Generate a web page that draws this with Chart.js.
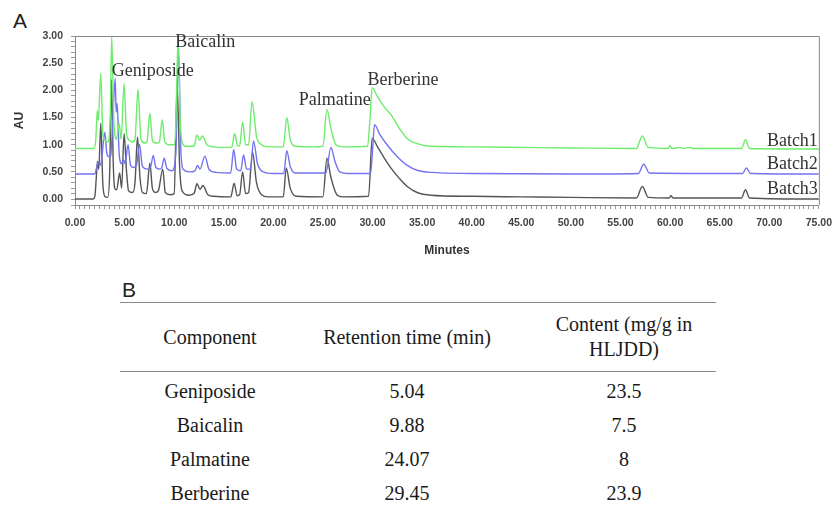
<!DOCTYPE html>
<html><head><meta charset="utf-8">
<script src="https://cdn.jsdelivr.net/npm/chart.js@4"></script>
<style>
html,body{margin:0;padding:0;background:#fff;width:840px;height:508px;overflow:hidden;}
#wrap{position:absolute;left:0;top:0;width:840px;height:265px;}
.lbl{position:absolute;font-family:'Liberation Sans',Arial,sans-serif;color:#222;line-height:normal;}
.t{position:absolute;font-family:'Liberation Serif','Times New Roman',serif;font-size:20px;color:#1a1a1a;text-align:center;width:300px;line-height:24px;white-space:nowrap;}
.rule{position:absolute;left:120px;width:596px;height:0;border-top:1.5px solid #888;}
</style></head>
<body>
<div class="lbl" style="left:13px;top:9px;font-size:21px;">A</div>
<div id="wrap"><canvas id="c" width="840" height="265"></canvas></div>
<div class="lbl" style="left:122px;top:278px;font-size:21px;">B</div>
<div class="rule" style="top:302px"></div>
<div class="rule" style="top:371px"></div>
<div id="tbl"></div>
<script>
// ---- chromatogram data: [minutes, AU] ----
const batch1 = [[0,0.93],[1.9,0.93],[2.1,1.1],[2.25,1.63],[2.35,1.45],[2.6,2.31],[2.8,1.2],[3.0,1.08],[3.3,1.05],[3.55,1.5],[3.7,3.0],[3.9,1.5],[4.05,1.15],[4.2,1.1],[4.45,1.39],[4.65,1.1],[4.95,2.12],[5.2,1.2],[5.5,1.08],[5.8,1.05],[6.05,1.1],[6.35,2.02],[6.65,1.1],[7.0,1.03],[7.25,1.05],[7.55,1.58],[7.8,1.08],[8.2,1.03],[8.5,1.05],[8.8,1.46],[9.05,1.05],[9.5,1.0],[10.0,1.0],[10.15,1.3],[10.4,3.0],[10.6,1.5],[10.8,1.05],[11.2,0.97],[12.0,0.97],[12.3,1.18],[12.55,1.08],[12.85,1.16],[13.3,1.0],[14.0,0.96],[15.0,0.95],[15.8,0.95],[16.1,1.2],[16.4,0.98],[16.6,0.98],[16.9,1.42],[17.2,1.0],[17.5,1.0],[17.85,1.79],[18.3,1.15],[18.8,1.0],[19.5,0.96],[21.0,0.96],[21.35,1.5],[21.7,1.1],[22.2,0.97],[24.0,0.96],[25.0,0.97],[25.4,1.65],[25.8,1.3],[26.3,1.0],[27,0.96],[29.5,0.97],[29.75,1.5],[29.96,2.05],[30.5,1.88],[31.2,1.69],[31.9,1.54],[32.7,1.3],[33.5,1.11],[34.5,1.02],[35.9,0.97],[40,0.96],[45,0.95],[50,0.94],[56.6,0.93],[57.2,1.16],[57.8,0.95],[59.8,0.93],[60.0,0.98],[60.2,0.93],[61,0.95],[61.3,0.93],[62,0.95],[62.3,0.93],[67.2,0.93],[67.6,1.09],[68.0,0.93],[75,0.92]];
const batch2 = [[0,0.46],[2.0,0.46],[2.2,0.6],[2.4,0.68],[2.55,0.62],[2.7,0.75],[3.0,1.23],[3.2,0.85],[3.4,0.78],[3.6,0.8],[3.8,1.4],[4.05,2.22],[4.15,1.6],[4.25,1.76],[4.45,0.85],[4.7,0.65],[4.9,0.72],[5.05,0.65],[5.35,1.0],[5.6,0.62],[5.9,0.58],[6.2,0.62],[6.5,1.01],[6.8,0.6],[7.3,0.55],[7.6,0.58],[7.9,0.8],[8.15,0.58],[8.6,0.55],[8.75,0.58],[9.0,0.75],[9.25,0.57],[9.8,0.52],[10.15,0.8],[10.45,2.73],[10.65,1.0],[10.9,0.55],[11.5,0.5],[12.1,0.52],[12.35,0.62],[12.6,0.55],[13.1,0.79],[13.5,0.55],[14.2,0.49],[15.7,0.48],[16.0,0.91],[16.3,0.55],[16.7,0.52],[17.0,0.81],[17.3,0.55],[17.7,0.55],[18.0,1.07],[18.4,0.65],[19,0.5],[20,0.47],[21.05,0.47],[21.35,0.89],[21.7,0.6],[22.2,0.48],[25.3,0.48],[25.8,0.95],[26.2,0.7],[26.7,0.5],[27.5,0.47],[29.8,0.47],[30.0,0.9],[30.2,1.37],[30.7,1.2],[31.5,0.99],[32.5,0.78],[33.5,0.62],[34.5,0.53],[35.9,0.49],[40,0.47],[50,0.46],[56.8,0.47],[57.35,0.64],[57.9,0.48],[67.3,0.47],[67.7,0.57],[68.1,0.47],[75,0.46]];
const batch3 = [[0,0.0],[1.8,0.0],[2.0,0.05],[2.15,0.4],[2.27,0.69],[2.4,0.55],[2.6,1.39],[2.8,0.3],[3.0,0.05],[3.3,0.03],[3.5,0.5],[3.68,2.2],[3.85,0.7],[4.0,0.2],[4.2,0.17],[4.5,0.48],[4.7,0.2],[4.95,1.2],[5.2,0.5],[5.4,0.15],[5.8,0.12],[6.05,0.3],[6.3,1.14],[6.55,0.4],[6.8,0.12],[7.2,0.1],[7.55,0.66],[7.8,0.2],[8.1,0.12],[8.4,0.15],[8.85,0.55],[9.1,0.12],[9.6,0.08],[10.0,0.1],[10.3,2.1],[10.55,0.6],[10.8,0.15],[11.5,0.07],[12.0,0.1],[12.3,0.28],[12.6,0.18],[12.9,0.25],[13.4,0.08],[14.0,0.05],[15.7,0.04],[16.05,0.29],[16.35,0.06],[16.6,0.08],[16.9,0.5],[17.2,0.1],[17.5,0.12],[17.9,0.86],[18.3,0.3],[18.8,0.08],[19.5,0.04],[21.0,0.04],[21.3,0.57],[21.7,0.2],[22.3,0.05],[25.0,0.04],[25.4,0.75],[25.8,0.4],[26.4,0.08],[27,0.04],[29.6,0.05],[29.96,1.12],[30.5,0.96],[31.2,0.75],[31.9,0.56],[32.7,0.38],[33.5,0.23],[34.5,0.12],[35.9,0.07],[40,0.05],[45,0.04],[50,0.03],[56.6,0.02],[57.2,0.23],[57.8,0.03],[59.9,0.02],[60.1,0.06],[60.3,0.02],[67.2,0.02],[67.6,0.17],[68.0,0.02],[75,0.0]];
const batchNames = ['Batch1','Batch2','Batch3'];
// label anchors [minutes, AU]
const peakNames = ['Geniposide','Baicalin','Palmatine','Berberine'];
const peakAnchors = [[3.7,2.36],[10.1,2.89],[22.55,1.82],[29.5,2.18]];
const batchAnchors = [[74.9,1.07],[74.9,0.645],[74.9,0.18]];
// ---- table data ----
const tableHeaders = ['Component','Retention time (min)','Content (mg/g in\nHLJDD)'];
const components = ['Geniposide','Baicalin','Palmatine','Berberine'];
const retention = ['5.04','9.88','24.07','29.45'];
const content = ['23.5','7.5','8','23.9'];

// build table
const tbl = document.getElementById('tbl');
const colX = [210,407,624];
const rowY = [391,425,459,493];
function addText(txt, cx, cy){
  const d=document.createElement('div'); d.className='t';
  d.style.left=(cx-150)+'px'; d.style.top=(cy-12)+'px'; d.textContent=txt; tbl.appendChild(d);
}
addText(tableHeaders[0], colX[0], 337);
addText(tableHeaders[1], colX[1], 337);
const hp = tableHeaders[2].split('\n');
addText(hp[0], colX[2], 324);
addText(hp[1], colX[2], 349);
components.forEach((c,i)=>{ addText(c,colX[0],rowY[i]); addText(retention[i],colX[1],rowY[i]); addText(content[i],colX[2],rowY[i]); });

const toXY = a => a.map(p=>({x:p[0],y:p[1]}));
const tickFont = {family:'Liberation Sans', size:10.5, weight:'bold'};

const overlay = {
  id:'overlay',
  afterDraw(chart){
    const {ctx, chartArea:a, scales:{x,y}} = chart;
    ctx.save();
    ctx.strokeStyle='#888'; ctx.lineWidth=1;
    ctx.beginPath();
    ctx.moveTo(a.left, a.top+0.5); ctx.lineTo(a.right+0.5, a.top+0.5); ctx.lineTo(a.right+0.5, a.bottom);
    ctx.stroke();
    ctx.fillStyle='#333'; ctx.font="18px 'Liberation Serif'"; ctx.textBaseline='middle';
    ctx.textAlign='left';
    peakNames.forEach((n,i)=>ctx.fillText(n, x.getPixelForValue(peakAnchors[i][0]), y.getPixelForValue(peakAnchors[i][1])));
    ctx.textAlign='right';
    batchNames.forEach((n,i)=>ctx.fillText(n, x.getPixelForValue(batchAnchors[i][0]), y.getPixelForValue(batchAnchors[i][1])));
    ctx.restore();
  }
};

const lineStyle = {borderWidth:1.4, pointRadius:0, cubicInterpolationMode:'monotone'};
new Chart(document.getElementById('c'), {
  type:'line',
  data:{datasets:[
    Object.assign({label:batchNames[0], data:toXY(batch1), borderColor:'#6ced6c'}, lineStyle),
    Object.assign({label:batchNames[1], data:toXY(batch2), borderColor:'#7373f0'}, lineStyle),
    Object.assign({label:batchNames[2], data:toXY(batch3), borderColor:'#555555'}, lineStyle)
  ]},
  options:{
    responsive:false, animation:false, devicePixelRatio:1,
    layout:{padding:{left:0,right:16,top:36,bottom:0}},
    plugins:{legend:{display:false}, tooltip:{enabled:false}},
    scales:{
      x:{type:'linear', min:0, max:75,
        border:{display:true,color:'#888',width:1},
        grid:{display:true,drawOnChartArea:false,drawTicks:true,tickLength:4,color:'#999'},
        ticks:{stepSize:0.5, autoSkip:false, maxRotation:0, padding:8, color:'#444', font:tickFont,
          callback:v=> (Math.abs(v/5-Math.round(v/5))<1e-6) ? Number(v).toFixed(2) : ''},
        title:{display:true, text:'Minutes', color:'#333', font:{family:'Liberation Sans',size:12,weight:'bold'}, padding:{top:0,bottom:7}},
        afterFit:s=>{s.height=60;}
      },
      y:{type:'linear', min:-0.11, max:3.0,
        border:{display:true,color:'#888',width:1},
        grid:{display:true,drawOnChartArea:false,drawTicks:true,tickLength:4,color:'#999'},
        ticks:{stepSize:0.1, autoSkip:false, padding:8, color:'#444', font:tickFont,
          callback:v=> (v>=-1e-6 && Math.abs(v*2-Math.round(v*2))<1e-6) ? Number(v).toFixed(2) : ''},
        title:{display:true, text:'AU', color:'#333', font:{family:'Liberation Sans',size:12,weight:'bold'}, padding:{top:12,bottom:0}},
        afterFit:s=>{s.width=75;}
      }
    }
  },
  plugins:[overlay]
});
</script>
</body></html>
